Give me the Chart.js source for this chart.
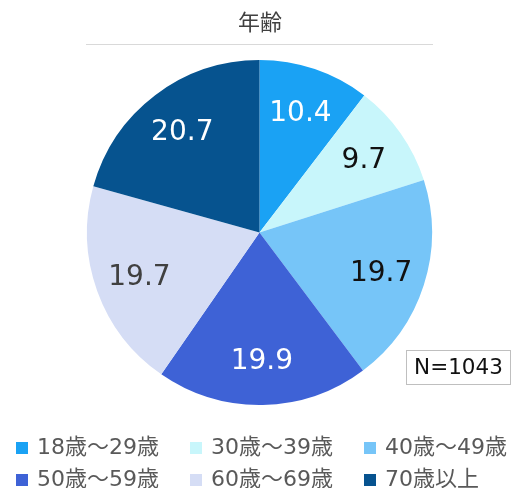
<!DOCTYPE html>
<html><head><meta charset="utf-8">
<script src="https://cdn.jsdelivr.net/npm/chart.js@4/dist/chart.umd.min.js"></script>
<style>html,body{margin:0;padding:0;background:#fff;}canvas{display:block;}</style>
</head><body>
<canvas id="c" width="519" height="488"></canvas>
<script>
const title = "年齢";
const categories = ["18歳～29歳","30歳～39歳","40歳～49歳","50歳～59歳","60歳～69歳","70歳以上"];
const values = [10.4, 9.7, 19.7, 19.9, 19.7, 20.7];
const colors = ["#1aa2f4","#c8f6fb","#76c5f8","#3e62d6","#d5ddf5","#06538f"];
const labelColors = ["#ffffff","#111111","#111111","#ffffff","#404040","#ffffff"];
const note = "N=1043";

const FONT_NUM = '"DejaVu Sans", "Noto Sans CJK JP", sans-serif';
const FONT_CJK = '"Noto Sans CJK JP", sans-serif';

const deco = {
  id: 'deco',
  afterDatasetsDraw(chart) {
    const ctx = chart.ctx;
    const meta = chart.getDatasetMeta(0);
    ctx.save();
    // slice labels
    ctx.font = '28px ' + FONT_NUM;
    ctx.textAlign = 'center';
    ctx.textBaseline = 'middle';
    meta.data.forEach((arc, i) => {
      const p = arc.getProps(['x','y','startAngle','endAngle','outerRadius'], true);
      const mid = (p.startAngle + p.endAngle) / 2;
      const r = p.outerRadius * 0.74;
      ctx.fillStyle = labelColors[i];
      ctx.fillText(values[i].toFixed(1), p.x + Math.cos(mid) * r, p.y + Math.sin(mid) * r + 2);
    });
    // title
    ctx.fillStyle = '#404040';
    ctx.font = '22px ' + FONT_CJK;
    ctx.fillText(title, 260, 22);
    ctx.strokeStyle = '#d9d9d9';
    ctx.lineWidth = 1;
    ctx.beginPath();
    ctx.moveTo(86, 44.5); ctx.lineTo(433, 44.5);
    ctx.stroke();
    // N box
    ctx.fillStyle = '#ffffff';
    ctx.fillRect(406, 350, 105, 35);
    ctx.strokeStyle = '#bfbfbf';
    ctx.strokeRect(406.5, 350.5, 104, 34);
    ctx.fillStyle = '#111111';
    ctx.font = '21.5px ' + FONT_NUM;
    ctx.fillText(note, 458.5, 368);
    // legend
    const colX = [16, 190, 364];
    const rowY = [448, 480];
    ctx.font = '22px ' + FONT_NUM;
    ctx.textAlign = 'left';
    categories.forEach((c, i) => {
      const x = colX[i % 3], y = rowY[Math.floor(i / 3)];
      ctx.fillStyle = colors[i];
      ctx.fillRect(x, y - 6, 12, 12);
      ctx.fillStyle = '#595959';
      ctx.fillText(c, x + 21, y);
    });
    ctx.restore();
  }
};

new Chart(document.getElementById('c'), {
  type: 'pie',
  data: {
    labels: categories,
    datasets: [{ data: values, backgroundColor: colors, borderWidth: 0 }]
  },
  options: {
    responsive: false,
    animation: false,
    layout: { padding: { top: 60, bottom: 83, left: 87, right: 87 } },
    plugins: { legend: { display: false }, tooltip: { enabled: false }, title: { display: false } }
  },
  plugins: [deco]
});
</script>
</body></html>
